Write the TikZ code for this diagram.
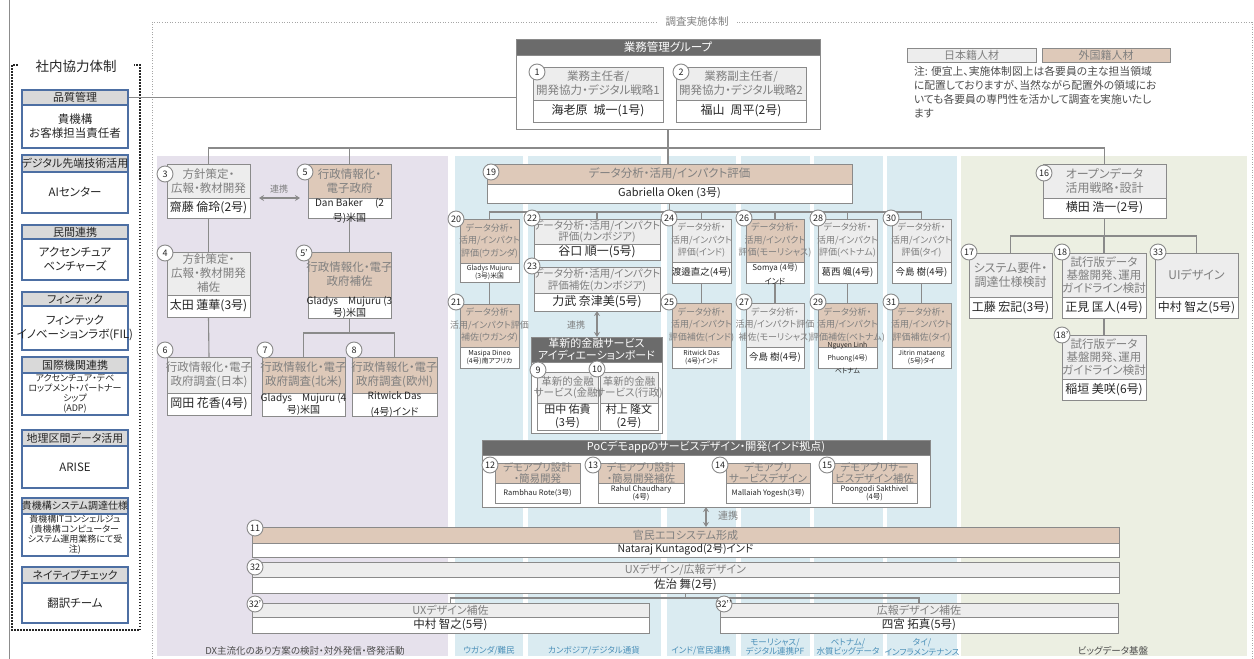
\documentclass[tikz,border=0pt]{standalone}
\usepackage{fontspec}
\setmainfont{Noto Sans CJK JP}[RawFeature={+palt}]
\usetikzlibrary{fit,arrows.meta,calc}
\newcommand\fsz[2]{\fontsize{#1}{#2}\selectfont}
\definecolor{lgray}{HTML}{EDEDED}
\definecolor{tanc}{HTML}{DEC9B9}
\definecolor{bord}{HTML}{8A8A8A}
\definecolor{dgray}{HTML}{6B6B6B}
\definecolor{htg}{HTML}{7F7F7F}
\definecolor{purp}{HTML}{E6E1EC}
\definecolor{blu}{HTML}{DAEBF1}
\definecolor{grn}{HTML}{ECEFE2}
\definecolor{lblue}{HTML}{4D6FA3}
\definecolor{lhead}{HTML}{D9D9D9}
\definecolor{labblue}{HTML}{4A8FB8}
\definecolor{txk}{HTML}{262626}
\pgfdeclarelayer{bg}\pgfdeclarelayer{ln}\pgfsetlayers{bg,ln,main}
\newcommand\mkb[9]{%
  \node[#1, fit={(#3,#4) (#6,#5)}] (#2h) {};
  \node[wb, fit={(#3,#5) (#6,#7)}] (#2n) {};
  \node[htxt] (#2ht) at (#2h.center) {#8};
  \node[ntxt,nopt] (#2nt) at (#2n.center) {#9};
}
\newcommand\gbx[1][]{\tikzset{nopt/.style={#1}}\mkb{gb}}
\newcommand\tbx[1][]{\tikzset{nopt/.style={#1}}\mkb{tb}}
\newcommand\lbox[6]{%
  \node[lbw, fit={(22,#3) (128,#4)}] (#1n) {};
  \node[ltxt] (#1nt) at (#1n.center) {#6};
  \node[lbh, fit={(22,#2) (128,#3)}] (#1h) {};
  \node[lhtxt] (#1ht) at (#1h.center) {#5};
}
\begin{document}
\begin{tikzpicture}[x=1pt,y=-1pt,
  every node/.style={inner sep=0pt,outer sep=0pt},
  gb/.style={draw=bord,fill=lgray,line width=1pt},
  tb/.style={draw=bord,fill=tanc,line width=1pt},
  wb/.style={draw=bord,fill=white,line width=1pt},
  db/.style={draw=bord,fill=dgray,line width=1pt},
  lbw/.style={draw=lblue,fill=white,line width=1.1pt},
  lbh/.style={draw=lblue,fill=lhead,line width=1.1pt},
  ltxt/.style={text=txk,align=center,font=\fsz{11.5}{14}},
  lhtxt/.style={text=txk,align=center,font=\fsz{11}{12}},
  htxt/.style={text=htg,align=center,font=\fsz{11.5}{14}},
  ntxt/.style={text=txk,align=center,font=\fsz{12}{14}},
  nopt/.style={},
  nsm/.style={font=\fsz{6.8}{8.5}},
  circ/.style={circle,draw=bord,fill=white,line width=0.9pt,minimum size=16pt,text=txk,font=\fsz{9}{10}},
  conn/.style={draw=bord,line width=1.1pt},
  arr/.style={draw=bord,line width=1.5pt,{Stealth[length=5pt,width=6pt]}-{Stealth[length=5pt,width=6pt]}},
  lab/.style={text=black!70,align=center,font=\fsz{9.5}{10.5}},
  labb/.style={text=labblue,align=center,font=\fsz{8.5}{9.5}},
  smalltxt/.style={text=htg,font=\fsz{9}{10}}
]
\useasboundingbox (0,0) rectangle (1254,659);
\begin{pgfonlayer}{bg}
  \fill[white] (0,0) rectangle (1254,659);
  \fill[purp] (157,156) rectangle (448,656);
  \foreach \a/\b in {455/523,528/661,667/736,741/810,814/883,887/957}
    \fill[blu] (\a,156) rectangle (\b,656);
  \fill[grn] (961,156) rectangle (1247,656);
  \draw[black!35, line width=0.9pt, dash pattern=on 1pt off 1.6pt] (152,662) -- (152,22) -- (1252,22) -- (1252,662);
  \draw[black!45, line width=0.8pt] (9.5,0) -- (9.5,659);
  \draw[black!85, line width=1.8pt, dash pattern=on 1.5pt off 1.5pt] (12,65) rectangle (140,630);
\end{pgfonlayer}
\node[fill=white, inner xsep=8pt, inner ysep=2pt, text=htg, font=\fsz{10.5}{12}] (ttl) at (697,22) {調査実施体制};
\node[fill=white, inner xsep=17pt, inner ysep=4pt, text=txk, font=\fsz{13.5}{15}] (ttl2) at (76,66) {社内協力体制};

% left column
\lbox{L1}{90}{105}{148}{品質管理}{貴機構\\お客様担当責任者}
\lbox{L2}{155}{172}{213}{デジタル先端技術活用}{AIセンター}
\lbox{L3}{225}{239}{280}{民間連携}{アクセンチュア\\ベンチャーズ}
\lbox{L4}{292}{306}{350}{フィンテック}{フィンテック\\イノベーションラボ(FIL)}
\begin{scope}[ltxt/.style={text=txk,align=center,font=\fsz{9}{10}}]
\lbox{L5}{357}{373}{415}{国際機関連携}{アクセンチュア・デベ\\ロップメント・パートナー\\シップ\\(ADP)}
\end{scope}
\lbox{L6}{430}{446}{488}{地理区間データ活用}{ARISE}
\begin{scope}[ltxt/.style={text=txk,align=center,font=\fsz{9}{10}},lhtxt/.style={text=txk,align=center,font=\fsz{10}{11}}]
\lbox{L7}{498}{514}{556}{貴機構システム調達仕様}{貴機構ITコンシェルジュ\\(貴機構コンピューター\\システム運用業務にて受\\注)}
\end{scope}
\lbox{L8}{567}{583}{623}{ネイティブチェック}{翻訳チーム}

% group
\node[wb, fit={(516,39) (820,129)}] (grp) {};
\node[db, fit={(516,39) (820,55)}] (grph) {};
\node[text=white, font=\fsz{11.5}{12}] (grpt) at (grph.center) {業務管理グループ};
\gbx{b1}{533}{67}{100}{663}{122}{業務主任者/\\開発協力・デジタル戦略1}{海老原\enspace 城一(1号)}
\gbx{b2}{676}{67}{100}{806}{122}{業務副主任者/\\開発協力・デジタル戦略2}{福山\enspace 周平(2号)}

% legend and note
\node[gb, fit={(907,48) (1036,62)}] (lg1) {};
\node[text=htg, font=\fsz{11}{12}] (lg1t) at (lg1.center) {日本籍人材};
\node[tb, fit={(1042,48) (1170,62)}] (lg2) {};
\node[text=htg, font=\fsz{11}{12}] (lg2t) at (lg2.center) {外国籍人材};
\node[anchor=north west, align=left, text=black!70, font=\fsz{10.8}{14}] (note) at (914,66) {注: 便宜上、実施体制図上は各要員の主な担当領域\\に配置しておりますが、当然ながら配置外の領域にお\\いても各要員の専門性を活かして調査を実施いたし\\ます};

% purple section
\gbx{b3}{167}{164}{198}{250}{218}{方針策定・\\広報・教材開発}{齋藤 倫玲(2号)}
\gbx{b4}{167}{252}{295}{250}{317}{方針策定・\\広報・教材開発\\補佐}{太田 蓮華(3号)}
\gbx{b6}{167}{357}{393}{251}{415}{行政情報化・電子\\政府調査(日本)}{岡田 花香(4号)}
\tbx[font=\fsz{10}{15},yshift=-3pt]{b5}{308}{164}{198}{391}{218}{行政情報化・\\電子政府}{Dan Baker\quad\ (2\\号)米国}
\tbx[font=\fsz{10}{11.5}]{b5p}{308}{252}{297}{391}{318}{行政情報化・電子\\政府補佐}{Gladys\quad Mujuru (3\\号)米国}
\tbx[font=\fsz{10}{12}]{b7}{262}{357}{393}{345}{416}{行政情報化・電子\\政府調査(北米)}{Gladys\quad Mujuru (4\\号)米国}
\tbx[font=\fsz{10}{16.5}]{b8}{352}{357}{393}{437}{416}{行政情報化・電子\\政府調査(欧州)}{Ritwick Das\\(4号)インド}
\node[smalltxt] (rk1) at (279,189) {連携};

% blue section
\begin{scope}[htxt/.style={text=htg,align=center,font=\fsz{11.5}{13}},ntxt/.style={text=txk,align=center,font=\fsz{11}{12}}]
\tbx{b19}{487}{164}{184}{852}{203}{データ分析・活用/インパクト評価}{Gabriella Oken (3号)}
\end{scope}
\begin{scope}[htxt/.style={text=htg,align=center,font=\fsz{9}{12.5}},ntxt/.style={text=txk,align=center,font=\fsz{9.5}{11}}]
\tbx[nsm]{b20}{460}{219}{263}{519}{282}{データ分析・\\活用/インパクト\\評価(ウガンダ)}{Gladys Mujuru\\(3号)米国}
\tbx[nsm]{b21}{460}{304}{347}{519}{368}{データ分析・\\活用/インパクト評価\\補佐(ウガンダ)}{Masipa Dineo\\(4号)南アフリカ}
\gbx{b24}{672}{219}{262}{731}{283}{データ分析・\\活用/インパクト\\評価(インド)}{渡邉直之(4号)}
\tbx[nsm]{b25}{672}{303}{347}{731}{368}{データ分析・\\活用/インパクト\\評価補佐(インド)}{Ritwick Das\\(4号)インド}
\tbx[font=\fsz{8}{14},yshift=-1.5pt]{b26}{746}{219}{262}{804}{283}{データ分析・\\活用/インパクト\\評価(モーリシャス)}{Somya (4号)\\インド}
\gbx{b27}{746}{303}{347}{804}{368}{データ分析・\\活用/インパクト評価\\補佐(モーリシャス)}{今島 樹(4号)}
\gbx{b28}{818}{219}{262}{877}{283}{データ分析・\\活用/インパクト\\評価(ベトナム)}{葛西 颯(4号)}
\tbx[font=\fsz{6.8}{13}]{b29}{818}{303}{347}{877}{368}{データ分析・\\活用/インパクト\\評価補佐(ベトナム)}{Nguyen Linh\\Phuong(4号)\\ベトナム}
\gbx{b30}{892}{219}{262}{951}{283}{データ分析・\\活用/インパクト\\評価(タイ)}{今島 樹(4号)}
\tbx[nsm]{b31}{892}{303}{347}{951}{368}{データ分析・\\活用/インパクト\\評価補佐(タイ)}{Jitrin mataeng\\(5号)タイ}
\end{scope}
\begin{scope}[htxt/.style={text=htg,align=center,font=\fsz{10.5}{11.5}},ntxt/.style={text=txk,align=center,font=\fsz{12}{13}}]
\gbx{b22}{534}{219}{244}{660}{260}{データ分析・活用/インパクト\\評価(カンボジア)}{谷口 順一(5号)}
\gbx{b23}{534}{267}{293}{660}{311}{データ分析・活用/インパクト\\評価補佐(カンボジア)}{力武 奈津美(5号)}
\end{scope}
\node[wb, fit={(531,337) (662,433)}] (ib) {};
\node[db, fit={(531,337) (662,362)}] (ibh) {};
\node[text=white, align=center, font=\fsz{11}{12.5}] (ibt) at (ibh.center) {革新的金融サービス\\アイディエーションボード};
\begin{scope}[htxt/.style={text=htg,align=center,font=\fsz{10.5}{11.5}},ntxt/.style={text=txk,align=center,font=\fsz{11}{13}}]
\gbx{b9}{537}{372}{403}{598}{430}{革新的金融\\サービス(金融)}{田中 佑貴\\(3号)}
\gbx{b10}{600}{372}{403}{658}{430}{革新的金融\\サービス(行政)}{村上 隆文\\(2号)}
\end{scope}
\node[smalltxt] (rk2) at (576,325) {連携};

% PoC
\node[wb, fit={(482,440) (930,507)}] (poc) {};
\node[db, fit={(482,440) (930,455)}] (poch) {};
\node[text=white, font=\fsz{11}{12}] (poct) at (poch.center) {PoCデモappのサービスデザイン・開発(インド拠点)};
\begin{scope}[htxt/.style={text=htg,align=center,font=\fsz{10.5}{11}},ntxt/.style={text=txk,align=center,font=\fsz{7.5}{8.5}}]
\tbx{b12}{495}{463}{483}{580}{503}{デモアプリ設計\\・簡易開発}{Rambhau Rote(3号)}
\tbx{b13}{598}{463}{483}{684}{503}{デモアプリ設計\\・簡易開発補佐}{Rahul Chaudhary\\(4号)}
\tbx{b14}{726}{463}{483}{810}{503}{デモアプリ\\サービスデザイン}{Mallaiah Yogesh(3号)}
\tbx{b15}{832}{463}{483}{917}{503}{デモアプリサー\\ビスデザイン補佐}{Poongodi Sakthivel\\(4号)}
\end{scope}
\node[smalltxt, font=\fsz{10}{11}] (rk3) at (728,516) {連携};

% bottom wide boxes
\begin{scope}[htxt/.style={text=htg,align=center,font=\fsz{11}{12}},ntxt/.style={text=txk,align=center,font=\fsz{11.5}{12}}]
\tbx[font=\fsz{10.5}{11}]{b11}{252}{527}{543}{1119}{557}{官民エコシステム形成}{Nataraj Kuntagod(2号)インド}
\gbx{b32}{252}{562}{577}{1119}{593}{UXデザイン/広報デザイン}{佐治 舞(2号)}
\gbx{b32a}{252}{603}{617}{649}{633}{UXデザイン補佐}{中村 智之(5号)}
\gbx{b32b}{720}{603}{617}{1118}{633}{広報デザイン補佐}{四宮 拓真(5号)}
\end{scope}

% green section
\begin{scope}[htxt/.style={text=htg,align=center,font=\fsz{12}{14}},ntxt/.style={text=txk,align=center,font=\fsz{12}{13}}]
\gbx{b16}{1043}{164}{198}{1166}{218}{オープンデータ\\活用戦略・設計}{横田 浩一(2号)}
\gbx{b17}{969}{253}{297}{1052}{318}{システム要件・\\調達仕様検討}{工藤 宏記(3号)}
\gbx{b33}{1155}{253}{297}{1238}{318}{UIデザイン}{中村 智之(5号)}
\end{scope}
\begin{scope}[htxt/.style={text=htg,align=center,font=\fsz{11.5}{13}},ntxt/.style={text=txk,align=center,font=\fsz{12}{13}}]
\gbx{b18}{1062}{253}{297}{1146}{318}{試行版データ\\基盤開発、運用\\ガイドライン検討}{正見 匡人(4号)}
\gbx{b18p}{1062}{335}{379}{1146}{400}{試行版データ\\基盤開発、運用\\ガイドライン検討}{稲垣 美咲(6号)}
\end{scope}

% bottom labels
\node[lab] (bl1) at (305,651) {DX主流化のあり方案の検討・対外発信・啓発活動};
\node[labb] (bl2) at (489,651) {ウガンダ/難民};
\node[labb] (bl3) at (594,651) {カンボジア/デジタル通貨};
\node[labb] (bl4) at (701,651) {インド/官民連携};
\node[labb] (bl5) at (775,647) {モーリシャス/\\デジタル連携PF};
\node[labb] (bl6) at (848,647) {ベトナム/\\水質ビッグデータ};
\node[labb] (bl7) at (922,647) {タイ/\\インフラメンテナンス};
\node[lab] (bl8) at (1113,651) {ビッグデータ基盤};

% circles
\foreach \nm/\x/\y/\t in {c1/537/72/1, c2/681/72/2, c3/165/174/3, c4/165/253/4, c5/305/172/5, c5p/304/253/5’, c6/165/350/6, c7/265/350/7, c8/354/350/8, c9/538/370/9, c10/597/369/10, c11/255/528/11, c12/490/465/12, c13/593/465/13, c14/720/465/14, c15/827/465/15, c16/1044/173/16, c17/969/252/17, c18/1062/252/18, c18p/1062/335/18’, c19/491/172/19, c20/456/219/20, c21/456/302/21, c22/532/218/22, c23/532/266/23, c24/669/218/24, c25/669/302/25, c26/744/218/26, c27/744/302/27, c28/818/218/28, c29/818/302/29, c30/891/218/30, c31/891/302/31, c32/255/567/32, c32a/255/604/32’, c32b/724/604/32’’, c33/1158/252/33}
  \node[circ] (\nm) at (\x,\y) {\makebox[0pt]{\t}};

% connectors
\begin{pgfonlayer}{ln}
  \draw[conn] (L1h.east) -- (L1h.east -| grp.west);
  \draw[conn] (grp.south) -- (grp.south |- b19h.north);
  \coordinate (j1) at (669,148);
  \draw[conn] (b3h.north) |- (j1) -| (b16h.north);
  \draw[conn] (b5h.north) -- (b5h.north |- j1);
  \draw[conn] (b3n.south) -- (b4h.north);
  \draw[conn] (b4n.south) -- (b6h.north);
  \draw[conn] (b5n.south) -- (b5ph.north);
  \coordinate (j2) at (349,333);
  \draw[conn] (b5pn.south) -- (b5pn.south |- j2);
  \draw[conn] (b7h.north) |- (j2) -| (b8h.north);
  \coordinate (j3) at (669,212);
  \draw[conn] (b19n.south) -- (b19n.south |- j3);
  \draw[conn] (b20h.north) |- (j3) -| (b30h.north);
  \draw[conn] (b22h.north) -- (b22h.north |- j3);
  \draw[conn] (b24h.north) -- (b24h.north |- j3);
  \draw[conn] (b26h.north) -- (b26h.north |- j3);
  \draw[conn] (b28h.north) -- (b28h.north |- j3);
  \draw[conn] (b20n.south) -- (b21h.north);
  \draw[conn] (b24n.south) -- (b25h.north);
  \draw[conn] (b26n.south) -- (b27h.north);
  \draw[conn] (b28n.south) -- (b29h.north);
  \draw[conn] (b30n.south) -- (b31h.north);
  \coordinate (j5) at (1104,236);
  \draw[conn] (b16n.south) -- (b16n.south |- j5);
  \draw[conn] (b17h.north) |- (j5) -| (b33h.north);
  \draw[conn] (b18h.north) -- (b18h.north |- j5);
  \draw[conn] (b18n.south) -- (b18ph.north);
  \coordinate (j4) at (685,598);
  \draw[conn] (b32n.south) -- (b32n.south |- j4);
  \draw[conn] (b32ah.north) |- (j4) -| (b32bh.north);
\end{pgfonlayer}
\draw[arr] ($(b3h.south east)+(9,0)$) -- ($(b5h.south west)+(-8,0)$);
\draw[arr] (b23n.south) -- (b23n.south |- ibh.north);
\draw[arr] (poc.south) -- (poc.south |- b11h.north);
\end{tikzpicture}
\end{document}
